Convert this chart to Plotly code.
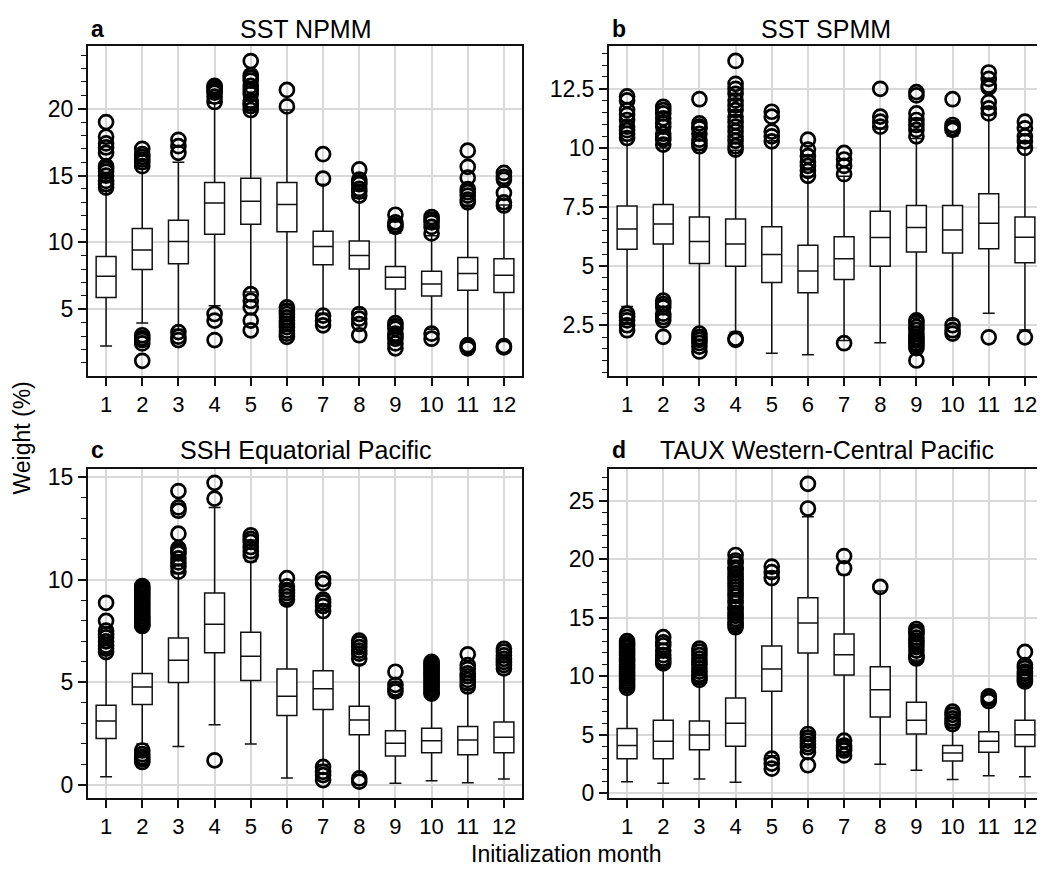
import plotly.graph_objects as go

months = list(range(1, 13))
month_labels = [str(m) for m in months]

# ---- Panel a: SST NPMM ----
a_q1 = [5.88, 7.97, 8.41, 10.62, 11.36, 10.80, 8.34, 8.02, 6.52, 6.00, 6.42, 6.25]
a_med = [7.48, 9.44, 10.06, 12.95, 13.08, 12.83, 9.69, 9.03, 7.40, 6.90, 7.67, 7.55]
a_q3 = [8.95, 11.04, 11.65, 14.48, 14.80, 14.48, 10.84, 10.10, 8.20, 7.85, 8.88, 8.78]
a_lo = [2.25, 3.97, 3.50, 5.27, 6.30, 5.30, 4.70, 5.00, 4.20, 3.50, 2.60, 2.60]
a_hi = [13.90, 15.50, 16.00, 20.40, 19.90, 19.90, 14.35, 13.30, 10.70, 10.50, 12.80, 12.80]
a_out = [
    [14.1, 14.35, 14.6, 15.0, 15.3, 15.5, 15.7, 16.7, 17.1, 17.4, 17.9, 19.0],
    [17.0, 16.6, 16.4, 16.2, 16.0, 15.7, 3.06, 2.85, 2.7, 2.45, 1.15],
    [17.67, 17.2, 16.7, 3.3, 2.95, 2.7],
    [21.7, 21.6, 21.5, 21.35, 21.2, 20.9, 20.5, 4.65, 4.16, 2.7],
    [23.56, 22.5, 22.3, 22.1, 21.7, 21.4, 21.1, 20.6, 20.4, 20.2, 19.9, 6.13, 5.64, 5.15, 4.16, 3.43],
    [21.4, 20.17, 5.15, 4.9, 4.65, 4.4, 4.16, 3.9, 3.67, 3.4, 3.18, 2.94],
    [16.6, 14.77, 4.53, 4.16, 3.8],
    [15.46, 14.7, 14.5, 14.35, 14.0, 13.8, 13.5, 4.65, 4.3, 3.9, 3.06],
    [12.07, 11.5, 11.3, 11.16, 3.97, 3.75, 3.55, 3.18, 3.0, 2.8, 2.45, 2.08],
    [11.9, 11.7, 11.5, 11.16, 10.67, 3.18, 2.8],
    [16.86, 15.65, 14.84, 13.98, 13.75, 13.5, 13.2, 13.0, 2.32, 2.2, 2.08],
    [15.2, 14.9, 14.7, 13.7, 13.0, 12.76, 2.25, 2.15],
]

# ---- Panel b: SST SPMM ----
b_q1 = [5.71, 5.94, 5.11, 5.00, 4.31, 3.88, 4.44, 5.00, 5.60, 5.56, 5.74, 5.14]
b_med = [6.57, 6.78, 6.04, 5.94, 5.49, 4.79, 5.31, 6.21, 6.63, 6.53, 6.81, 6.22]
b_q3 = [7.54, 7.61, 7.08, 6.99, 6.67, 5.88, 6.24, 7.32, 7.57, 7.57, 8.06, 7.08]
b_lo = [3.29, 3.60, 2.30, 2.20, 1.32, 1.25, 1.85, 1.76, 2.80, 2.70, 3.01, 2.30]
b_hi = [10.30, 10.00, 9.90, 9.90, 10.30, 8.80, 8.80, 10.80, 10.40, 10.50, 11.40, 10.00]
b_out = [
    [12.18, 12.01, 11.6, 11.4, 11.18, 10.9, 10.75, 10.6, 10.42, 2.99, 2.85, 2.71, 2.5, 2.29],
    [11.74, 11.6, 11.46, 11.25, 11.05, 10.9, 10.6, 10.45, 10.35, 10.14, 3.54, 3.4, 3.26, 2.99, 2.85, 2.71, 2.01],
    [12.06, 11.04, 10.9, 10.83, 10.6, 10.35, 10.2, 10.07, 2.15, 2.0, 1.88, 1.75, 1.6, 1.39],
    [13.68, 12.71, 12.5, 12.29, 12.01, 11.8, 11.6, 11.32, 11.1, 10.9, 10.7, 10.49, 10.3, 10.07, 9.93, 1.94, 1.88],
    [11.53, 11.32, 10.69, 10.49, 10.28],
    [10.35, 9.93, 9.65, 9.4, 9.24, 9.03, 8.82],
    [9.79, 9.51, 9.24, 8.89, 1.74],
    [12.5, 11.32, 11.11, 10.9],
    [12.36, 12.22, 11.46, 11.18, 10.97, 10.76, 10.49, 2.71, 2.6, 2.43, 2.3, 2.15, 2.0, 1.94, 1.85,
     1.74, 1.65, 1.53, 1.01],
    [12.06, 10.97, 10.85, 10.76, 2.5, 2.29, 2.15],
    [13.19, 12.92, 12.64, 12.55, 11.94, 11.67, 11.46, 1.99],
    [11.11, 10.83, 10.49, 10.28, 10.0, 1.99],
]

# ---- Panel c: SSH Equatorial Pacific ----
c_q1 = [2.26, 3.92, 4.99, 6.44, 5.09, 3.39, 3.68, 2.45, 1.41, 1.57, 1.47, 1.57]
c_med = [3.12, 4.77, 6.08, 7.84, 6.27, 4.32, 4.69, 3.17, 2.03, 2.16, 2.19, 2.32]
c_q3 = [3.89, 5.44, 7.17, 9.36, 7.44, 5.65, 5.57, 3.84, 2.64, 2.77, 2.85, 3.07]
c_lo = [0.40, 2.00, 1.87, 2.93, 2.00, 0.34, 1.00, 0.50, 0.08, 0.21, 0.11, 0.29]
c_hi = [6.40, 7.60, 10.30, 13.53, 10.90, 8.80, 8.50, 5.90, 4.30, 4.30, 4.70, 5.40]
c_out = [
    [8.88, 8.0, 7.52, 7.35, 7.2, 7.0, 6.8, 6.65, 6.48],
    [9.7, 9.6, 9.5, 9.4, 9.3, 9.2, 9.1, 9.0, 8.9, 8.8, 8.7, 8.6, 8.5, 8.4, 8.3, 8.2, 8.1, 8.0, 7.9,
     7.8, 7.75, 1.68, 1.5, 1.36, 1.25, 1.12],
    [14.33, 13.53, 13.37, 12.25, 11.53, 11.4, 11.29, 11.05, 10.85, 10.65, 10.4],
    [14.73, 13.96, 1.2],
    [12.17, 12.0, 11.85, 11.6, 11.4, 11.2],
    [10.08, 9.68, 9.5, 9.36, 9.2, 9.04],
    [10.04, 9.84, 9.04, 8.9, 8.72, 8.48, 0.88, 0.64, 0.48, 0.24],
    [7.04, 6.9, 6.72, 6.55, 6.4, 6.16, 0.32, 0.16],
    [5.52, 4.88, 4.7, 4.56],
    [6.0, 5.9, 5.8, 5.7, 5.6, 5.5, 5.4, 5.3, 5.2, 5.1, 5.0, 4.9, 4.8, 4.7, 4.6, 4.5, 4.45],
    [6.37, 5.84, 5.65, 5.44, 5.3, 5.12, 4.95, 4.8],
    [6.64, 6.5, 6.32, 6.15, 6.0, 5.85, 5.68],
]

# ---- Panel d: TAUX Western-Central Pacific ----
d_q1 = [2.95, 2.95, 3.71, 4.02, 8.71, 11.99, 10.11, 6.52, 5.06, 2.75, 3.51, 3.99]
d_med = [4.07, 4.44, 4.97, 5.98, 10.62, 14.55, 11.85, 8.85, 6.24, 3.43, 4.44, 5.00]
d_q3 = [5.53, 6.24, 6.18, 8.15, 12.58, 16.71, 13.62, 10.81, 7.78, 4.07, 5.25, 6.24]
d_lo = [0.98, 0.84, 1.21, 0.93, 3.20, 5.30, 4.60, 2.47, 1.97, 1.18, 1.49, 1.40]
d_hi = [8.90, 10.90, 9.60, 14.20, 18.50, 23.65, 18.70, 17.30, 11.40, 5.60, 7.50, 9.30]
d_out = [
    [13.0, 12.8, 12.6, 12.4, 12.2, 12.0, 11.8, 11.6, 11.4, 11.2, 11.0, 10.8, 10.6, 10.4, 10.2,
     10.0, 9.8, 9.6, 9.4, 9.2, 9.0],
    [13.34, 12.9, 12.64, 12.2, 11.8, 11.52, 11.3, 11.1],
    [12.36, 12.1, 11.8, 11.5, 11.24, 11.0, 10.67, 10.4, 10.11, 9.9, 9.69],
    [20.37, 19.9, 19.66, 19.3, 19.1, 18.8, 18.54, 18.3, 17.98, 17.7, 17.42, 17.1, 16.85, 16.5, 16.29,
     15.9, 15.73, 15.4, 15.17, 14.9, 14.61, 14.4, 14.19],
    [19.38, 18.9, 18.4, 2.95, 2.53, 2.1],
    [26.46, 24.35, 5.06, 4.75, 4.49, 4.2, 3.93, 3.51, 2.39],
    [20.28, 19.24, 4.49, 4.07, 3.85, 3.65, 3.23],
    [17.64],
    [14.04, 13.8, 13.62, 13.3, 13.06, 12.8, 12.5, 12.2, 11.8, 11.7, 11.52],
    [6.97, 6.7, 6.4, 6.15, 5.9],
    [8.29, 8.1, 7.87],
    [12.08, 10.96, 10.7, 10.39, 10.2, 9.97, 9.75, 9.55],
]

# page geometry: the page body has an 8px margin, so the figure is slightly smaller
W, H, OFF = 1037, 870, 8


def px_x(X):
    return (X - OFF) / W


def px_y(Y):
    return 1 - (Y - OFF) / H


XD_L = [px_x(88), px_x(522)]
XD_R = [px_x(609), px_x(1043)]
YD_T = [px_y(376), px_y(42)]
YD_B = [px_y(805), px_y(471)]

panels = [
    dict(letter="a", title="SST NPMM", q1=a_q1, med=a_med, q3=a_q3, lo=a_lo, hi=a_hi, out=a_out,
         xd=XD_L, yd=YD_T, yr=[0.05, 24.65], ty=24, tx=306, lx=89,
         tv=[5, 10, 15, 20], tt=["5", "10", "15", "20"], minor=1),
    dict(letter="b", title="SST SPMM", q1=b_q1, med=b_med, q3=b_q3, lo=b_lo, hi=b_hi, out=b_out,
         xd=XD_R, yd=YD_T, yr=[0.375, 14.29], ty=24, tx=826, lx=610,
         tv=[2.5, 5, 7.5, 10, 12.5], tt=["2.5", "5", "7.5", "10", "12.5"], minor=0.5),
    dict(letter="c", title="SSH Equatorial Pacific", q1=c_q1, med=c_med, q3=c_q3, lo=c_lo, hi=c_hi, out=c_out,
         xd=XD_L, yd=YD_B, yr=[-0.64, 15.4], ty=452, tx=306, lx=89,
         tv=[0, 5, 10, 15], tt=["0", "5", "10", "15"], minor=1),
    dict(letter="d", title="TAUX Western-Central Pacific", q1=d_q1, med=d_med, q3=d_q3, lo=d_lo, hi=d_hi, out=d_out,
         xd=XD_R, yd=YD_B, yr=[-0.42, 27.72], ty=452, tx=827, lx=610,
         tv=[0, 5, 10, 15, 20, 25], tt=["0", "5", "10", "15", "20", "25"], minor=1),
]

FONT = "Liberation Sans, Arial, Helvetica, sans-serif"
fig = go.Figure()
layout = {}
annotations = []

for i, p in enumerate(panels):
    n = "" if i == 0 else str(i + 1)
    xa, ya = "x" + n, "y" + n
    fig.add_trace(go.Box(
        x=months, q1=p["q1"], median=p["med"], q3=p["q3"],
        lowerfence=p["lo"], upperfence=p["hi"],
        boxpoints=False, width=0.55, whiskerwidth=0.6,
        fillcolor="white", line=dict(color="#111111", width=1.5),
        xaxis=xa, yaxis=ya, showlegend=False, hoverinfo="skip"))
    ox, oy = [], []
    for m, vals in zip(months, p["out"]):
        for v in vals:
            ox.append(m)
            oy.append(v)
    fig.add_trace(go.Scatter(
        x=ox, y=oy, mode="markers",
        marker=dict(symbol="circle-open", size=14, color="black", line=dict(width=2.7, color="black")),
        xaxis=xa, yaxis=ya, showlegend=False, hoverinfo="skip"))

    layout["xaxis" + n] = dict(
        domain=p["xd"], anchor=ya, range=[0.5, 12.5],
        tickvals=months, ticktext=month_labels, ticks="outside", ticklen=8, tickwidth=1.5,
        tickcolor="#111111", showline=True, linecolor="#111111", linewidth=2, mirror=True,
        showgrid=True, gridcolor="#d9d9d9", gridwidth=2, zeroline=False,
        tickfont=dict(family=FONT, size=22, color="black"))
    layout["yaxis" + n] = dict(
        domain=p["yd"], anchor=xa, range=p["yr"],
        tickvals=p["tv"], ticktext=p["tt"], ticks="outside", ticklen=8, tickwidth=1.5,
        tickcolor="#111111", showline=True, linecolor="#111111", linewidth=2, mirror=True,
        showgrid=True, gridcolor="#d9d9d9", gridwidth=2, zeroline=False,
        minor=dict(dtick=p["minor"], tick0=0, ticks="outside", ticklen=5, tickwidth=1.2,
                   tickcolor="#111111", showgrid=False),
        tickfont=dict(family=FONT, size=23, color="black"))

    annotations.append(dict(text=p["title"], x=px_x(p["tx"]), y=px_y(p["ty"]), xref="paper", yref="paper",
                            xanchor="center", yanchor="middle", showarrow=False,
                            font=dict(family=FONT, size=25, color="black")))
    annotations.append(dict(text="<b>" + p["letter"] + "</b>", x=px_x(p["lx"]), y=px_y(p["ty"]),
                            xref="paper", yref="paper", xanchor="left", yanchor="middle", showarrow=False,
                            font=dict(family=FONT, size=23, color="black")))

annotations.append(dict(text="Weight (%)", x=px_x(22), y=px_y(440), xref="paper", yref="paper", textangle=-90,
                        xanchor="center", yanchor="middle", showarrow=False,
                        font=dict(family=FONT, size=23, color="black")))
annotations.append(dict(text="Initialization month", x=px_x(566), y=px_y(862), xref="paper", yref="paper",
                        xanchor="center", yanchor="middle", showarrow=False,
                        font=dict(family=FONT, size=23, color="black")))

fig.update_layout(**layout)
fig.update_layout(width=W, height=H, margin=dict(l=0, r=0, t=0, b=0),
                  paper_bgcolor="white", plot_bgcolor="white", annotations=annotations)
fig.write_html("out.html")
